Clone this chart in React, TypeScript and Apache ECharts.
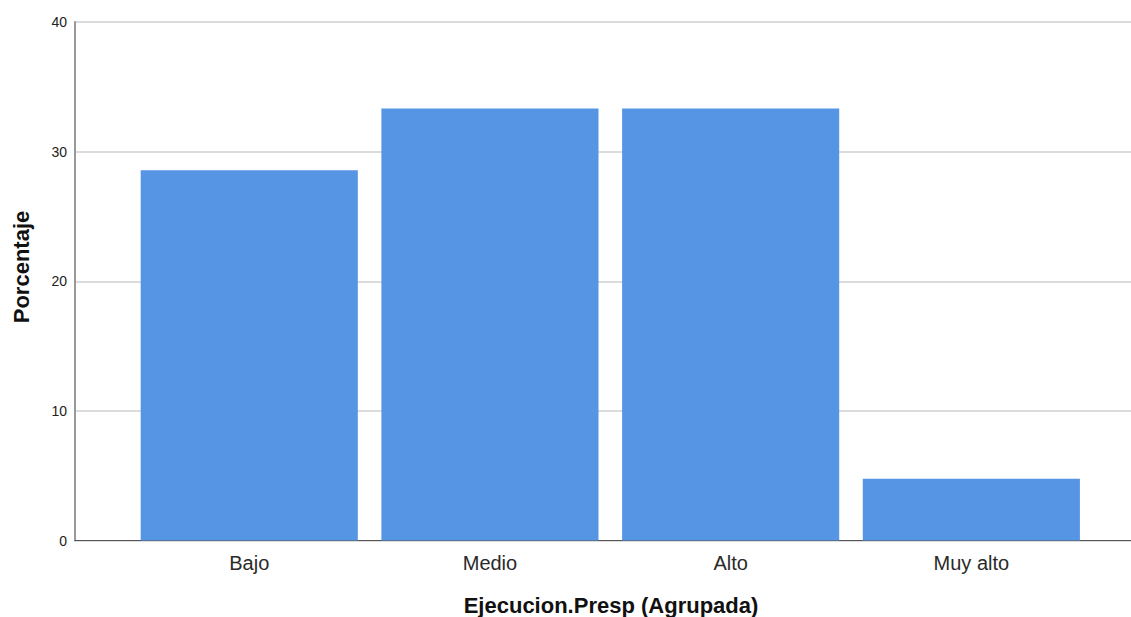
import React, { useEffect, useRef } from "react";
import * as echarts from "echarts";

const categories = ["Bajo", "Medio", "Alto", "Muy alto"];
const percentages = [28.57, 33.33, 33.33, 4.76];
const yTicks = [0, 10, 20, 30, 40];
const yTitle = "Porcentaje";
const xTitle = "Ejecucion.Presp (Agrupada)";

export default function App() {
  const ref = useRef<HTMLDivElement>(null);
  useEffect(() => {
    if (!ref.current) return;
    const chart = echarts.init(ref.current, null, { renderer: "svg" });
    const font = "'Liberation Sans', Arial, sans-serif";
    const top = 22;
    const bottomY = 540.5;
    const h = bottomY - top;
    chart.setOption({
      animation: false,
      backgroundColor: "#ffffff",
      grid: [
        { left: 75, right: 0, top: top, height: h, containLabel: false },
        { left: 128.9, width: 962.8, top: top, height: h, containLabel: false },
      ],
      xAxis: [
        {
          gridIndex: 0,
          type: "value",
          min: 0,
          max: 1,
          axisLine: { show: true, lineStyle: { color: "#555555", width: 1.2 } },
          axisTick: { show: false },
          axisLabel: { show: false },
          splitLine: { show: false },
        },
        {
          gridIndex: 1,
          type: "category",
          data: categories,
          axisLine: { show: false },
          axisTick: { show: false },
          axisLabel: { color: "#2a2a2a", fontSize: 20, fontFamily: font, margin: 12 },
          splitLine: { show: false },
        },
      ],
      yAxis: [
        {
          gridIndex: 0,
          type: "value",
          min: yTicks[0],
          max: yTicks[yTicks.length - 1],
          interval: 10,
          axisLine: { show: true, lineStyle: { color: "#999999", width: 2 } },
          axisTick: { show: false },
          axisLabel: { color: "#222222", fontSize: 14, fontFamily: font, margin: 8 },
          splitLine: { show: true, lineStyle: { color: "#d0d0d0", width: 1.5 } },
        },
        {
          gridIndex: 1,
          type: "value",
          min: yTicks[0],
          max: yTicks[yTicks.length - 1],
          interval: 10,
          show: false,
          splitLine: { show: false },
        },
      ],
      series: [
        {
          type: "bar",
          xAxisIndex: 1,
          yAxisIndex: 1,
          data: percentages,
          barCategoryGap: "9.8%",
          itemStyle: { color: "#5595E4" },
        },
      ],
      graphic: [
        {
          type: "text",
          x: 21,
          y: 267,
          rotation: Math.PI / 2,
          style: {
            text: yTitle,
            fontSize: 22,
            fontWeight: "bold",
            fontFamily: font,
            fill: "#111111",
            align: "center",
            verticalAlign: "middle",
          },
        },
        {
          type: "text",
          x: 611,
          y: 605,
          style: {
            text: xTitle,
            fontSize: 22,
            fontWeight: "bold",
            fontFamily: font,
            fill: "#111111",
            align: "center",
            verticalAlign: "middle",
          },
        },
      ],
    });
    return () => chart.dispose();
  }, []);
  return <div ref={ref} style={{ width: 1131, height: 617, position: "absolute", left: 0, top: 0 }} />;
}
